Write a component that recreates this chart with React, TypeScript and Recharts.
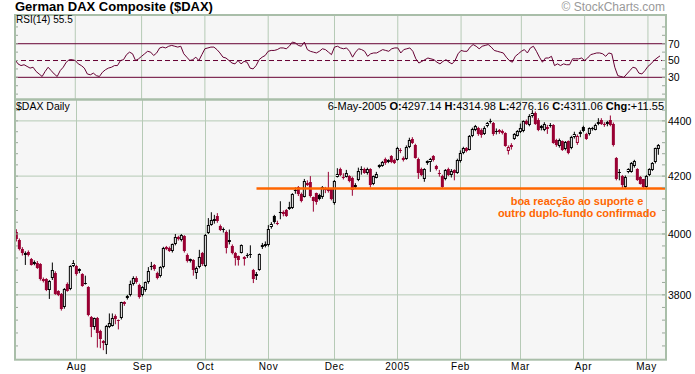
import React from "react";
import { ComposedChart, Bar, Line, XAxis, YAxis, CartesianGrid, ReferenceLine } from "recharts";

// trading sessions shown per month (Jul 2004 starts on the 5th)
const months = ["Jul", "Aug", "Sep", "Oct", "Nov", "Dec", "2005", "Feb", "Mar", "Apr", "May"];
const sessions = [20, 22, 21, 21, 22, 21, 21, 20, 21, 21, 5];

const opens = [
  4008, 3980, 3950, 3930, 3940, 3916, 3900, 3905, 3900, 3851, 3850, 3817, 3855, 3872, 3812, 3803, 3760, 3835, 3820, 3895,
  3893, 3876, 3866, 3836, 3825, 3730, 3697, 3726, 3686, 3654, 3643, 3697, 3702, 3734, 3720, 3726, 3776, 3791, 3798, 3835, 3856, 3833,
  3798, 3815, 3840, 3890, 3896, 3872, 3861, 3890, 3955, 3954, 3942, 3965, 3990, 3979, 3993, 3931, 3910, 3913, 3872, 3890, 3936,
  3895, 4003, 4031, 4045, 4062, 4028, 4012, 4008, 3972, 3960, 3935, 3925, 3938, 3922, 3928, 3930, 3880, 3862, 3881, 3955, 3960,
  3962, 4022, 4060, 4035, 4072, 4074, 4080, 4085, 4089, 4147, 4160, 4138, 4128, 4168, 4180, 4125, 4140, 4133, 4125, 4155, 4154, 4155,
  4106, 4198, 4225, 4198, 4198, 4200, 4195, 4162, 4185, 4222, 4226, 4210, 4226, 4172, 4195, 4232, 4236, 4262, 4250, 4270, 4257,
  4258, 4295, 4265, 4262, 4305, 4332, 4312, 4262, 4225, 4190, 4245, 4250, 4270, 4235, 4212, 4200, 4188, 4225, 4205, 4220, 4212,
  4252, 4282, 4300, 4295, 4344, 4366, 4374, 4368, 4352, 4380, 4397, 4392, 4360, 4365, 4364, 4355, 4289, 4310, 4332, 4345,
  4358, 4362, 4400, 4385, 4418, 4430, 4404, 4372, 4368, 4370, 4382, 4385, 4330, 4307, 4325, 4296, 4325, 4300, 4340, 4318, 4352,
  4378, 4352, 4350, 4370, 4368, 4390, 4402, 4383, 4390, 4405, 4390, 4265, 4212, 4200, 4160, 4214, 4216, 4235, 4225, 4198, 4188,
  4160, 4204, 4222, 4250, 4297.14,
];

const highs = [
  4016, 3985, 3956, 3942, 3945, 3920, 3912, 3910, 3903, 3856, 3854, 3848, 3905, 3876, 3815, 3806, 3822, 3840, 3896, 3913,
  3897, 3886, 3870, 3862, 3828, 3733, 3728, 3730, 3690, 3658, 3705, 3741, 3741, 3738, 3722, 3778, 3780, 3800, 3846, 3860, 3860, 3836,
  3828, 3843, 3890, 3907, 3900, 3875, 3893, 3957, 3960, 3958, 3968, 4000, 3994, 4000, 3996, 3935, 3918, 3916, 3892, 3947, 3940,
  4000, 4054, 4074, 4065, 4071, 4032, 4022, 4012, 4015, 3965, 3940, 3928, 3965, 3926, 3936, 3962, 3884, 3874, 3935, 3970, 3975,
  4030, 4040, 4065, 4045, 4112, 4080, 4085, 4110, 4140, 4160, 4165, 4142, 4190, 4185, 4200, 4128, 4142, 4138, 4165, 4162, 4215, 4158,
  4186, 4228, 4230, 4210, 4222, 4203, 4198, 4175, 4230, 4235, 4230, 4230, 4228, 4202, 4215, 4242, 4254, 4266, 4260, 4275, 4262,
  4305, 4300, 4270, 4310, 4338, 4340, 4316, 4266, 4230, 4228, 4256, 4265, 4275, 4240, 4222, 4205, 4225, 4230, 4225, 4224, 4262,
  4292, 4305, 4304, 4348, 4375, 4385, 4378, 4372, 4380, 4396, 4408, 4396, 4372, 4370, 4368, 4358, 4310, 4318, 4355, 4366,
  4390, 4402, 4405, 4425, 4440, 4435, 4410, 4385, 4395, 4385, 4392, 4388, 4334, 4335, 4328, 4326, 4328, 4345, 4360, 4350, 4365,
  4382, 4356, 4376, 4378, 4390, 4410, 4410, 4395, 4400, 4420, 4394, 4268, 4225, 4204, 4202, 4228, 4250, 4258, 4228, 4200, 4190,
  4204, 4228, 4250, 4302, 4314.98,
];

const lows = [
  3975, 3945, 3928, 3897, 3925, 3895, 3896, 3884, 3846, 3840, 3812, 3787, 3848, 3800, 3796, 3750, 3756, 3810, 3815, 3890,
  3862, 3870, 3826, 3833, 3732, 3667, 3690, 3635, 3633, 3627, 3615, 3695, 3700, 3707, 3691, 3722, 3765, 3785, 3795, 3830, 3836, 3788,
  3795, 3810, 3836, 3880, 3878, 3850, 3856, 3886, 3946, 3940, 3938, 3962, 3978, 3975, 3938, 3905, 3905, 3862, 3851, 3886, 3894,
  3890, 4000, 4028, 4035, 4038, 4010, 4005, 3935, 3965, 3932, 3895, 3895, 3935, 3895, 3920, 3920, 3838, 3848, 3878, 3950, 3955,
  3958, 4018, 4035, 4030, 4050, 4060, 4058, 4082, 4085, 4138, 4130, 4108, 4125, 4165, 4125, 4076, 4100, 4115, 4120, 4140, 4142, 4115,
  4100, 4195, 4200, 4188, 4195, 4178, 4131, 4158, 4182, 4205, 4208, 4205, 4160, 4168, 4192, 4228, 4233, 4240, 4246, 4246, 4243,
  4255, 4282, 4252, 4258, 4300, 4315, 4262, 4190, 4200, 4180, 4240, 4215, 4252, 4220, 4198, 4158, 4185, 4200, 4195, 4185, 4208,
  4248, 4278, 4285, 4292, 4340, 4362, 4345, 4338, 4348, 4376, 4390, 4345, 4350, 4352, 4350, 4305, 4277, 4295, 4330, 4342,
  4355, 4358, 4385, 4380, 4412, 4385, 4362, 4365, 4362, 4352, 4375, 4316, 4305, 4302, 4290, 4292, 4278, 4296, 4335, 4312, 4340,
  4358, 4330, 4346, 4364, 4365, 4384, 4385, 4378, 4380, 4380, 4306, 4185, 4185, 4158, 4158, 4210, 4212, 4230, 4183, 4170, 4158,
  4157, 4200, 4218, 4245, 4276.16,
];

const closes = [
  3982, 3950, 3935, 3938, 3929, 3898, 3908, 3888, 3850, 3845, 3817, 3845, 3882, 3803, 3800, 3755, 3818, 3814, 3893, 3905,
  3867, 3883, 3830, 3838, 3735, 3697, 3726, 3680, 3660, 3649, 3702, 3710, 3728, 3723, 3716, 3776, 3771, 3795, 3835, 3856, 3840, 3793,
  3824, 3840, 3877, 3892, 3883, 3854, 3890, 3954, 3950, 3944, 3965, 3990, 3982, 3995, 3942, 3910, 3915, 3880, 3888, 3922, 3899,
  3995, 4032, 4048, 4052, 4043, 4014, 4016, 3952, 3980, 3937, 3920, 3912, 3962, 3917, 3931, 3933, 3852, 3868, 3932, 3963, 3968,
  4018, 4035, 4040, 4038, 4075, 4068, 4062, 4092, 4137, 4150, 4136, 4112, 4183, 4176, 4130, 4113, 4108, 4121, 4160, 4150, 4147, 4120,
  4183, 4208, 4204, 4193, 4210, 4182, 4152, 4170, 4218, 4225, 4212, 4226, 4170, 4200, 4208, 4238, 4250, 4245, 4256, 4250, 4247,
  4300, 4288, 4258, 4305, 4328, 4320, 4265, 4212, 4205, 4224, 4252, 4260, 4258, 4225, 4208, 4162, 4222, 4205, 4218, 4212, 4258,
  4282, 4300, 4289, 4344, 4371, 4380, 4350, 4348, 4375, 4392, 4400, 4350, 4362, 4358, 4356, 4308, 4306, 4303, 4350, 4362,
  4374, 4398, 4390, 4420, 4430, 4390, 4368, 4380, 4390, 4376, 4386, 4320, 4310, 4330, 4295, 4322, 4283, 4340, 4350, 4346, 4360,
  4364, 4335, 4372, 4374, 4385, 4395, 4390, 4389, 4395, 4386, 4310, 4188, 4214, 4167, 4198, 4224, 4246, 4252, 4187, 4173, 4162,
  4200, 4225, 4246, 4299.51, 4311.06,
];

const rsiValues = [
  51, 46, 44, 45, 43, 41, 42, 37, 34, 31, 37, 42, 38, 34, 31, 38, 42, 48, 51, 51,
  50, 46, 44, 41, 34, 33, 35, 32, 31, 36, 39, 41, 42, 44, 44, 50, 51, 57, 60, 58, 50, 52,
  55, 58, 61, 60, 56, 59, 65, 66, 65, 67, 68, 67, 66, 67, 58, 54, 50, 51, 54, 50, 57,
  64, 65, 66, 66, 63, 59, 54, 53, 50, 47, 46, 50, 46, 49, 48, 41, 40, 44, 51, 54, 56,
  61, 62, 62, 63, 65, 65, 64, 67, 72, 71, 68, 67, 72, 63, 61, 60, 59, 61, 64, 63, 60, 57,
  66, 67, 65, 64, 65, 61, 54, 60, 64, 63, 61, 55, 58, 59, 59, 61, 63, 62, 61, 64, 65,
  65, 59, 63, 64, 65, 61, 52, 47, 49, 51, 53, 52, 51, 48, 46, 49, 51, 48, 46, 50, 58,
  62, 61, 61, 66, 69, 67, 64, 67, 68, 69, 66, 62, 61, 60, 59, 54, 50, 48, 55, 58,
  61, 63, 59, 65, 67, 61, 54, 48, 53, 53, 55, 44, 46, 44, 46, 45, 45, 52, 52, 52, 53,
  50, 53, 57, 58, 59, 59, 58, 55, 59, 58, 42, 32, 31, 30, 34, 38, 42, 41, 35, 34, 38,
  43, 46, 50, 53, 55.5,
];

const priceTicks = [3640, 3680, 3720, 3760, 3800, 3840, 3880, 3920, 3960, 4000, 4040, 4080, 4120, 4160, 4200, 4240, 4280, 4320, 4360, 4400, 4440];
const priceLabels = [3800, 4000, 4200, 4400];
const rsiTicks = [10, 20, 30, 40, 50, 60, 70, 80, 90];
const rsiLabels = [30, 50, 70];

const title = "German DAX Composite ($DAX)";
const lastDate = "6-May-2005";
const supportLevel = 4156;
const supportStart = "Oct-17";
const noteLines = ["boa reacção ao suporte e", "outro duplo-fundo confirmado"];

const RED = "#990033";
const RSI_COLOR = "#660033";
const GRID = "#b6cab6";
const FRAME = "#a9bea9";
const PANEL = "#f6f6f6";
const ORANGE = "#ff6600";
const TICK = "#9aa89a";
const FONT = "'Liberation Sans', Arial, Helvetica, sans-serif";

const W = 695;
const H = 374;
const LEFT = 14;
const AXIS_W = 29;
const PLOT_W = W - LEFT - AXIS_W;

const rows: any[] = [];
{
  let k = 0;
  months.forEach((m, mi) => {
    for (let i = 0; i < sessions[mi]; i++) {
      rows.push({
        key: `${m}-${i}`,
        open: opens[k],
        high: highs[k],
        low: lows[k],
        close: closes[k],
        prev: k > 0 ? closes[k - 1] : opens[k],
        range: [lows[k], highs[k]],
        rsi: rsiValues[k],
      });
      k++;
    }
  });
}
const monthStarts = months.slice(1).map((m) => `${m}-0`);
const lastKey = rows[rows.length - 1].key;

const Candle = (props: any) => {
  const { x, y, width, height, payload } = props;
  if (!payload || !isFinite(y) || !isFinite(height)) return null;
  const top0 = Math.min(y, y + height);
  const h = Math.abs(height);
  const cx = x + width / 2;
  const lnH = Math.log(payload.high);
  const lnL = Math.log(payload.low);
  const span = lnH - lnL || 1;
  const at = (v: number) => top0 + ((lnH - Math.log(v)) / span) * h;
  const yo = at(payload.open);
  const yc = at(payload.close);
  const color = payload.close < payload.prev ? RED : "#000";
  const top = Math.round(Math.min(yo, yc));
  const bot = Math.round(Math.max(yo, yc));
  const hollow = payload.close >= payload.open && bot - top > 2;
  return (
    <g>
      <line x1={cx} x2={cx} y1={top0} y2={top0 + h} stroke={color} strokeWidth={1} />
      {hollow ? (
        <rect x={cx - 1} y={top + 0.5} width={2} height={bot - top - 1} fill="#fff" stroke={color} strokeWidth={1} />
      ) : (
        <rect x={cx - 1.5} y={top} width={3} height={Math.max(bot - top, 1)} fill={color} />
      )}
    </g>
  );
};

const makeTick = (labels: number[]) => (props: any) => {
  const { x, y, payload } = props;
  const edge = x - 2;
  const v = payload.value;
  return (
    <g>
      <line x1={edge - 4} x2={edge} y1={y} y2={y} stroke={TICK} />
      <line x1={edge - PLOT_W} x2={edge - PLOT_W + 4} y1={y} y2={y} stroke={TICK} />
      {labels.includes(v) && (
        <text x={x} y={y} dy="0.36em" fontSize={10.5} fill="#000" fontFamily={FONT}>
          {v}
        </text>
      )}
    </g>
  );
};
const PriceTick = makeTick(priceLabels);
const RsiTick = makeTick(rsiLabels);

const MonthTick = (props: any) => {
  const { x, y, payload } = props;
  return (
    <text x={x} y={y + 10.3} textAnchor="middle" fontSize={10} letterSpacing={0.6} fill="#000" fontFamily={FONT}>
      {String(payload.value).split("-")[0]}
    </text>
  );
};

const fmt = (v: number) => v.toFixed(2);

export default function App() {
  const last = rows[rows.length - 1];
  const chg = last.close - rows[rows.length - 2].close;
  return (
    <div style={{ position: "absolute", left: 0, top: 0, width: W, height: H, background: "#fff", fontFamily: FONT }}>
      <svg width={W} height={H} style={{ position: "absolute", left: 0, top: 0 }}>
        <rect x={LEFT} y={15} width={PLOT_W} height={84.5} fill={PANEL} />
        <rect x={LEFT} y={99.5} width={PLOT_W} height={260.2} fill={PANEL} />
      </svg>

      <div style={{ position: "absolute", left: 0, top: 0 }}>
        <ComposedChart width={W} height={100} data={rows} margin={{ top: 15, right: 0, bottom: 0.5, left: LEFT }}>
          <CartesianGrid horizontal={false} verticalValues={monthStarts} stroke={GRID} />
          <XAxis dataKey="key" hide padding={{ left: 1, right: 6 }} />
          <YAxis
            orientation="right"
            width={AXIS_W}
            type="number"
            domain={[3.6, 104.2]}
            allowDataOverflow
            ticks={rsiTicks}
            interval={0}
            tick={RsiTick}
            tickSize={0}
            tickMargin={2}
            axisLine={false}
            tickLine={false}
          />
          <ReferenceLine y={70} stroke={RSI_COLOR} strokeWidth={1} />
          <ReferenceLine y={30} stroke={RSI_COLOR} strokeWidth={1} />
          <ReferenceLine y={50} stroke={RSI_COLOR} strokeWidth={1} strokeDasharray="5 3" />
          <Line dataKey="rsi" stroke={RSI_COLOR} strokeWidth={1} dot={false} isAnimationActive={false} />
        </ComposedChart>
      </div>

      <div style={{ position: "absolute", left: 0, top: 0 }}>
        <ComposedChart
          width={W}
          height={H}
          data={rows}
          margin={{ top: 99.5, right: 0, bottom: 0, left: LEFT }}
          barCategoryGap={0}
          barGap={0}
        >
          <CartesianGrid horizontalValues={priceLabels} verticalValues={monthStarts} stroke={GRID} />
          <XAxis
            dataKey="key"
            ticks={monthStarts}
            interval={0}
            padding={{ left: 1, right: 6 }}
            height={14.3}
            tick={MonthTick}
            tickSize={0}
            tickMargin={0}
            axisLine={false}
            tickLine={false}
          />
          <YAxis
            orientation="right"
            width={AXIS_W}
            type="number"
            scale="log"
            domain={[3598, 4480]}
            allowDataOverflow
            ticks={priceTicks}
            interval={0}
            tick={PriceTick}
            tickSize={0}
            tickMargin={2}
            axisLine={false}
            tickLine={false}
          />
          <Bar dataKey="range" barSize={3} shape={Candle} isAnimationActive={false} />
          <ReferenceLine
            segment={[
              { x: supportStart, y: supportLevel },
              { x: lastKey, y: supportLevel },
            ]}
            stroke={ORANGE}
            strokeWidth={2.5}
            shape={(p: any) => (
              <line x1={p.x1} y1={p.y1} x2={p.x2 + 7.5} y2={p.y2} stroke={ORANGE} strokeWidth={2.5} />
            )}
          />
        </ComposedChart>
      </div>

      <svg width={W} height={H} style={{ position: "absolute", left: 0, top: 0, pointerEvents: "none" }}>
        <rect x={15} y={15} width={651} height={84.5} fill="none" stroke={FRAME} strokeWidth={2} />
        <rect x={15} y={99.5} width={651} height={260.2} fill="none" stroke={FRAME} strokeWidth={2} />
        <text x={15} y={10.8} fontSize={13} fontWeight="bold" fill="#000" fontFamily={FONT}>
          {title}
        </text>
        <text x={665} y={11} textAnchor="end" fontSize={12} fill="#999" fontFamily={FONT}>
          © StockCharts.com
        </text>
        <text x={16} y={23} fontSize={10} fill="#000" fontFamily={FONT}>
          {`RSI(14)  ${rsiValues[rsiValues.length - 1].toFixed(1)}`}
        </text>
        <text x={16} y={110} fontSize={10.5} fill="#000" fontFamily={FONT}>
          $DAX Daily
        </text>
        <text x={664} y={110} textAnchor="end" fontSize={11} fill="#000" fontFamily={FONT}>
          {lastDate}{" "}
          <tspan fontWeight="bold">O:</tspan>
          {fmt(last.open)}{" "}
          <tspan fontWeight="bold">H:</tspan>
          {fmt(last.high)}{" "}
          <tspan fontWeight="bold">L:</tspan>
          {fmt(last.low)}{" "}
          <tspan fontWeight="bold">C:</tspan>
          {fmt(last.close)}{" "}
          <tspan fontWeight="bold">Chg:</tspan>
          {(chg >= 0 ? "+" : "") + fmt(chg)}
        </text>
        {noteLines.map((t, i) => (
          <text key={t} x={577} y={205 + i * 12} textAnchor="middle" fontSize={11} fontWeight="bold" fill={ORANGE} fontFamily={FONT}>
            {t}
          </text>
        ))}
      </svg>
    </div>
  );
}
